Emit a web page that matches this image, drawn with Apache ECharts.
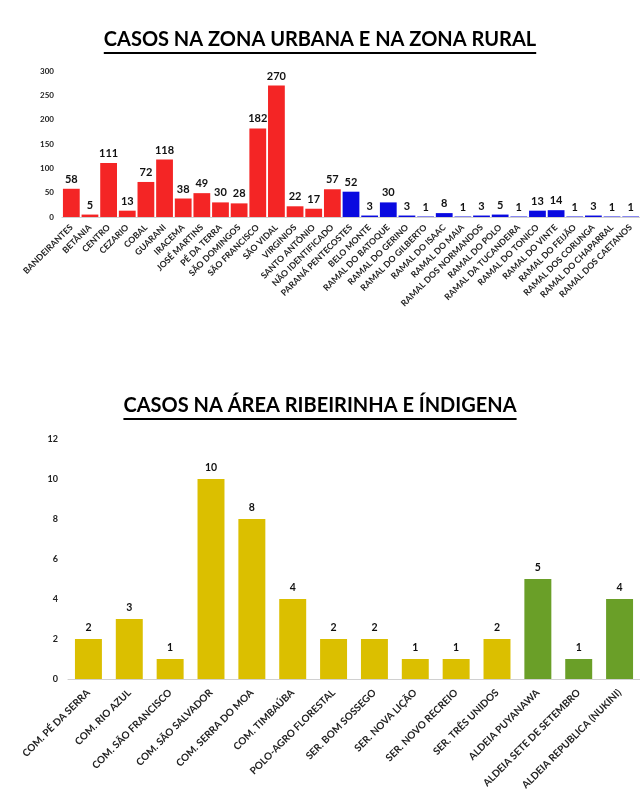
<!DOCTYPE html>
<html><head><meta charset="utf-8">
<script src="https://cdn.jsdelivr.net/npm/echarts@6/dist/echarts.min.js"></script>
<style>html,body{margin:0;padding:0;background:#fff}#c{width:640px;height:812px}</style>
</head><body><div id="c"></div>
<script>
const title1 = 'CASOS NA ZONA URBANA E NA ZONA RURAL';
const title2 = 'CASOS NA ÁREA RIBEIRINHA E ÍNDIGENA';

const urbanNames = ['BANDEIRANTES','BETÂNIA','CENTRO','CEZARIO','COBAL','GUARANI','IRACEMA','JOSÉ MARTINS','PÉ DA TERRA','SÃO DOMINGOS','SÃO FRANCISCO','SÃO VIDAL','VIRGINIOS','SANTO ANTÔNIO','NÃO IDENTIFICADO'];
const urbanValues = [58,5,111,13,72,118,38,49,30,28,182,270,22,17,57];
const ruralNames = ['PARANÁ PENTECOSTES','BELO MONTE','RAMAL DO BATOQUE','RAMAL DO GERINO','RAMAL DO GILBERTO','RAMAL DO ISAAC','RAMAL DO MAIA','RAMAL DOS NORMANDOS','RAMAL DO POLO','RAMAL DA TUCANDEIRA','RAMAL DO TONICO','RAMAL DO VINTE','RAMAL DO FEIJÃO','RAMAL DOS CORUNGA','RAMAL DO CHAPARRAL','RAMAL DOS CAETANOS'];
const ruralValues = [52,3,30,3,1,8,1,3,5,1,13,14,1,3,1,1];

const ribNames = ['COM. PÉ DA SERRA','COM. RIO AZUL','COM. SÃO FRANCISCO','COM. SÃO SALVADOR','COM. SERRA DO MOA','COM. TIMBAÚBA','POLO-AGRO FLORESTAL','SER. BOM SOSSEGO','SER. NOVA LIÇÃO','SER. NOVO RECREIO','SER. TRÊS UNIDOS'];
const ribValues = [2,3,1,10,8,4,2,2,1,1,2];
const indNames = ['ALDEIA PUYANAWA','ALDEIA SETE DE SETEMBRO','ALDEIA REPUBLICA (NUKINI)'];
const indValues = [5,1,4];

const RED = '#f42525', BLUE = '#0a0ae0', YELLOW = '#dbbf00', GREEN = '#6a9f28';
const FONT = 'Lato';

const topCats = urbanNames.concat(ruralNames);
const topData = urbanValues.map(v => ({value: v, itemStyle: {color: RED}}))
  .concat(ruralValues.map(v => ({value: v, itemStyle: {color: BLUE}})));
const botCats = ribNames.concat(indNames);
const botData = ribValues.map(v => ({value: v, itemStyle: {color: YELLOW}}))
  .concat(indValues.map(v => ({value: v, itemStyle: {color: GREEN}})));

function tw(text, font) {
  const c = document.createElement('canvas').getContext('2d');
  c.font = font; return c.measureText(text).width;
}
const tFont = 'bold 20px ' + FONT;
const w1 = tw(title1, tFont), w2 = tw(title2, tFont);

const chart = echarts.init(document.getElementById('c'), null, {renderer: 'canvas'});
const axisLabelCommon = {color: '#222', fontFamily: FONT, fontWeight: 'bold'};
chart.setOption({
  animation: false,
  graphic: [
    {type: 'text', left: 'center', top: 30, style: {text: title1, font: tFont, fill: '#000'}},
    {type: 'rect', shape: {x: 320 - w1/2, y: 52, width: w1, height: 2}, style: {fill: '#000'}},
    {type: 'text', left: 'center', top: 396, style: {text: title2, font: tFont, fill: '#000'}},
    {type: 'rect', shape: {x: 320 - w2/2, y: 418, width: w2, height: 2}, style: {fill: '#000'}}
  ],
  grid: [
    {left: 62, right: 0, top: 71, height: 146},
    {left: 68, right: 0, top: 439, height: 240}
  ],
  xAxis: [
    {type: 'category', gridIndex: 0, data: topCats,
     axisTick: {show: false}, axisLine: {lineStyle: {color: '#d0d0d0'}},
     axisLabel: Object.assign({rotate: 45, interval: 0, fontSize: 8.7, margin: 9}, axisLabelCommon)},
    {type: 'category', gridIndex: 1, data: botCats,
     axisTick: {show: false}, axisLine: {lineStyle: {color: '#d0d0d0'}},
     axisLabel: Object.assign({rotate: 45, interval: 0, fontSize: 10, margin: 12}, axisLabelCommon)}
  ],
  yAxis: [
    {type: 'value', gridIndex: 0, min: 0, max: 300, interval: 50, splitLine: {show: false},
     axisLine: {show: false}, axisTick: {show: false},
     axisLabel: Object.assign({fontSize: 8, margin: 8}, axisLabelCommon)},
    {type: 'value', gridIndex: 1, min: 0, max: 12, interval: 2, splitLine: {show: false},
     axisLine: {show: false}, axisTick: {show: false},
     axisLabel: Object.assign({fontSize: 9, margin: 10}, axisLabelCommon)}
  ],
  series: [
    {type: 'bar', xAxisIndex: 0, yAxisIndex: 0, data: topData, barCategoryGap: '10%',
     label: {show: true, position: 'top', distance: 4, color: '#111', fontFamily: FONT, fontWeight: 'bold', fontSize: 11}},
    {type: 'bar', xAxisIndex: 1, yAxisIndex: 1, data: botData, barCategoryGap: '34%',
     label: {show: true, position: 'top', distance: 6, color: '#111', fontFamily: FONT, fontWeight: 'bold', fontSize: 10.5}}
  ]
});
</script></body></html>
